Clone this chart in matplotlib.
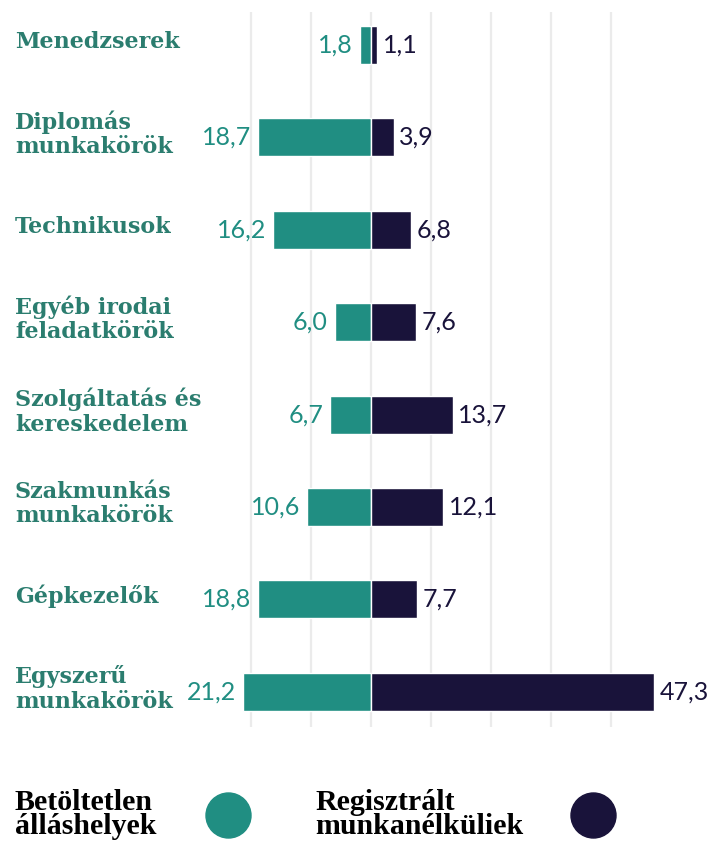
import matplotlib.pyplot as plt
from matplotlib.lines import Line2D

# adatok
categories = ['Menedzserek', 'Diplomás\nmunkakörök', 'Technikusok', 'Egyéb irodai\nfeladatkörök',
              'Szolgáltatás és\nkereskedelem', 'Szakmunkás\nmunkakörök', 'Gépkezelők',
              'Egyszerű\nmunkakörök']
vacancies = [1.8, 18.7, 16.2, 6.0, 6.7, 10.6, 18.8, 21.2]
unemployed = [1.1, 3.9, 6.8, 7.6, 13.7, 12.1, 7.7, 47.3]
legend_labels = ['Betöltetlen\nálláshelyek', 'Regisztrált\nmunkanélküliek']

TEAL = '#208e82'
NAVY = '#19133a'
LABEL_TEAL = '#2b7d6f'
GRID = '#ebebeb'

W, H = 709, 841
fig = plt.figure(figsize=(W / 100, H / 100), dpi=100)

# tengely pixelben: x 200..700, y 12..727 (felülről)
ax = fig.add_axes([200 / W, 1 - 727 / H, 500 / W, (727 - 12) / H])
scale = 6.0  # px / egység
ax.set_xlim((200 - 370.5) / scale, (700 - 370.5) / scale)
ax.set_ylim(7.381, -0.357)

for g in range(-20, 50, 10):
    ax.axvline(g, color=GRID, lw=1.6, zorder=0)

ys = list(range(len(categories)))
ax.barh(ys, [-v for v in vacancies], height=0.41, color=TEAL, edgecolor='white', lw=1.0, zorder=2)
ax.barh(ys, unemployed, height=0.41, color=NAVY, edgecolor='white', lw=1.0, zorder=2)

for y, v, u in zip(ys, vacancies, unemployed):
    ax.annotate(f'{v:.1f}'.replace('.', ','), (-v, y), xytext=(-5, 0), textcoords='offset points',
                ha='right', va='center', color=TEAL, fontsize=18, family='Lato')
    ax.annotate(f'{u:.1f}'.replace('.', ','), (u, y), xytext=(4, 0), textcoords='offset points',
                ha='left', va='center', color=NAVY, fontsize=18, family='Lato')

# kategória címkék
for y, c in zip(ys, categories):
    yp = 42 + 92.4 * y
    fig.text(15 / W, 1 - yp / H, c, ha='left', va='center', color=LABEL_TEAL,
             fontsize=16, fontweight='bold', family='DejaVu Serif', linespacing=1.15)

ax.axis('off')

# jelmagyarázat
fig.text(15 / W, 1 - 789 / H, legend_labels[0], ha='left', va='top', color='black',
         fontsize=21.5, fontweight='bold', family='Liberation Serif', linespacing=0.85)
fig.text(315 / W, 1 - 789 / H, legend_labels[1], ha='left', va='top', color='black',
         fontsize=21.5, fontweight='bold', family='Liberation Serif', linespacing=0.85)
for xp, col in [(228, TEAL), (593, NAVY)]:
    fig.add_artist(Line2D([xp / W], [1 - 815 / H], marker='o', markersize=32.4, color=col,
                          transform=fig.transFigure))

fig.savefig('out.png', dpi=100)
